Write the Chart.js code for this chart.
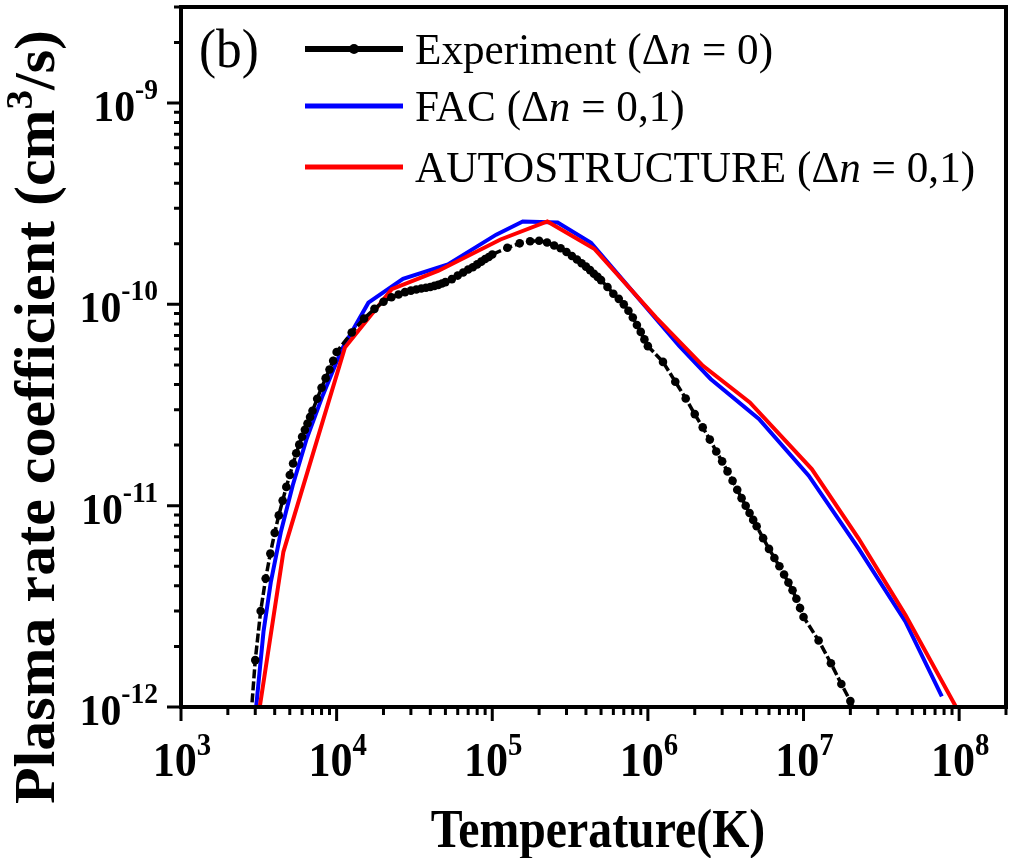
<!DOCTYPE html>
<html>
<head>
<meta charset="utf-8">
<title>Plasma rate coefficient</title>
<script src="https://cdn.jsdelivr.net/npm/chart.js@4.4.1/dist/chart.umd.min.js"></script>
<style>
  html, body { margin: 0; padding: 0; background: #fff; }
  #RateChart { display: block; }
</style>
</head>
<body>
<canvas id="RateChart" width="1011" height="858"></canvas>
<script>
// Experiment (dn = 0), temperature in K and rate in cm^3/s
const expT = [
  2750, 3000, 3250, 3500, 3750, 4000, 4250, 4500, 4750, 5000, 5250, 5500,
  5750, 6000, 6250, 6500, 6750, 7000, 7500, 8000, 8500, 9000, 9500, 10000,
  12500, 15000, 17500, 20000, 22500, 25000, 27500, 30000, 32500, 35000,
  37500, 40000, 42500, 45000, 47500, 50000, 55000, 60000, 65000, 70000,
  75000, 80000, 85000, 90000, 95000, 100000,
  125000, 150000, 175000, 200000, 225000, 250000, 275000, 300000, 325000,
  350000, 375000, 400000, 425000, 450000, 475000, 500000, 550000, 600000,
  650000, 700000, 750000, 800000, 850000, 900000, 950000, 1000000,
  1250000, 1500000, 1750000, 2000000, 2250000, 2500000, 2750000, 3000000,
  3250000, 3500000, 3750000, 4000000, 4250000, 4500000, 4750000, 5000000,
  5500000, 6000000, 6500000, 7000000, 7500000, 8000000, 8500000, 9000000,
  9500000, 10000000,
  12500000, 15000000, 17500000, 20000000, 22500000,
];
const expRate = [
  7.0e-13, 1.71e-12, 3.0e-12, 4.35e-12, 5.78e-12, 7.33e-12, 8.95e-12,
  1.06e-11, 1.24e-11, 1.42e-11, 1.62e-11, 1.82e-11, 2.01e-11, 2.2e-11,
  2.38e-11, 2.56e-11, 2.76e-11, 2.96e-11, 3.4e-11, 3.85e-11, 4.3e-11,
  4.75e-11, 5.25e-11, 5.8e-11,
  7.25e-11, 8.5e-11, 9.5e-11, 1.03e-10, 1.085e-10, 1.12e-10, 1.15e-10,
  1.17e-10, 1.185e-10, 1.2e-10, 1.21e-10, 1.22e-10, 1.235e-10, 1.25e-10,
  1.27e-10, 1.29e-10, 1.335e-10, 1.39e-10, 1.44e-10, 1.49e-10, 1.53e-10,
  1.58e-10, 1.63e-10, 1.68e-10, 1.72e-10, 1.77e-10,
  1.91e-10, 2.01e-10, 2.06e-10, 2.07e-10, 2.03e-10, 1.96e-10, 1.9e-10,
  1.82e-10, 1.74e-10, 1.67e-10, 1.6e-10, 1.54e-10, 1.48e-10, 1.42e-10,
  1.37e-10, 1.32e-10, 1.22e-10, 1.13e-10, 1.065e-10, 1.0e-10, 9.3e-11,
  8.6e-11, 7.9e-11, 7.3e-11, 6.7e-11, 6.2e-11,
  5.18e-11, 4.13e-11, 3.41e-11, 2.85e-11, 2.45e-11, 2.13e-11, 1.86e-11,
  1.66e-11, 1.48e-11, 1.33e-11, 1.2e-11, 1.09e-11, 1.0e-11, 9.2e-12,
  8.5e-12, 7.9e-12, 6.9e-12, 6.1e-12, 5.5e-12, 5.0e-12, 4.55e-12,
  4.15e-12, 3.8e-12, 3.45e-12, 3.1e-12, 2.8e-12,
  2.14e-12, 1.65e-12, 1.3e-12, 1.07e-12, 8.6e-13,
];

// FAC (dn = 0,1)
const facT = [
  3000, 3390, 3780, 4380, 5220, 6420, 8130, 10800, 16000, 26700, 51900,
  106000, 157000, 263000, 431000, 1590000, 2530000, 5170000, 10800000,
  22600000, 45100000, 77400000,
];
const facRate = [
  9.0e-13, 2.37e-12, 4.19e-12, 7.4e-12, 1.26e-11, 2.15e-11, 3.52e-11,
  5.98e-11, 1.02e-10, 1.34e-10, 1.58e-10, 2.22e-10, 2.58e-10, 2.55e-10,
  2.02e-10, 6.22e-11, 4.26e-11, 2.7e-11, 1.41e-11, 6.12e-12, 2.66e-12,
  1.13e-12,
];

// AUTOSTRUCTURE (dn = 0,1)
const asT = [
  2260, 4550, 11300, 22600, 45200, 113000, 226000, 452000, 1130000,
  2260000, 4520000, 11300000, 22600000, 45200000, 113000000,
];
const asRate = [
  1.7e-13, 5.9e-12, 6.1e-11, 1.19e-10, 1.47e-10, 2.1e-10, 2.58e-10,
  1.89e-10, 8.6e-11, 4.95e-11, 3.26e-11, 1.52e-11, 6.87e-12, 2.86e-12,
  7.9e-13,
];

// axes
const xMin = 1e3;
const xMax = 2e8;
const yMin = 1e-12;
const yMax = 3e-9;
const xDecades = [1e3, 1e4, 1e5, 1e6, 1e7, 1e8];
const xDecadeLabels = ["3", "4", "5", "6", "7", "8"];
const yDecades = [1e-12, 1e-11, 1e-10, 1e-9];
const yDecadeLabels = ["-12", "-11", "-10", "-9"];
const minorSteps = [2, 3, 4, 5, 6, 7, 8, 9];

const legendLabels = [
  ["Experiment (\u0394", "n", " = 0)"],
  ["FAC (\u0394", "n", " = 0,1)"],
  ["AUTOSTRUCTURE (\u0394", "n", " = 0,1)"],
];

const serif = '"Liberation Serif", "Times New Roman", serif';

function toPoints(ts, vs) {
  return ts.map((t, i) => ({ x: t, y: vs[i] }));
}

function runsWidth(ctx, runs, sx) {
  return runs.reduce((w, r) => {
    ctx.font = r.font;
    return w + ctx.measureText(r.text).width * sx;
  }, 0);
}

function drawRuns(ctx, runs, x, y, sx) {
  let cx = x;
  runs.forEach((r) => {
    ctx.font = r.font;
    const w = ctx.measureText(r.text).width;
    ctx.save();
    ctx.translate(cx, y + (r.dy || 0));
    ctx.scale(sx, 1);
    ctx.fillText(r.text, 0, 0);
    ctx.restore();
    cx += w * sx;
  });
}

const axisDecor = {
  id: "axisDecor",
  afterDraw(chart) {
    const { ctx, chartArea: area } = chart;
    const xs = chart.scales.x;
    const ys = chart.scales.y;

    ctx.save();
    ctx.fillStyle = "#000";
    ctx.strokeStyle = "#000";
    ctx.textAlign = "left";
    ctx.textBaseline = "alphabetic";

    // tick marks, outward
    ctx.lineWidth = 3;
    ctx.beginPath();
    xDecades.forEach((d) => {
      const p = xs.getPixelForValue(d);
      ctx.moveTo(p, area.bottom);
      ctx.lineTo(p, area.bottom + 14);
      minorSteps.forEach((m) => {
        if (d * m > xMax) return;
        const q = xs.getPixelForValue(d * m);
        ctx.moveTo(q, area.bottom);
        ctx.lineTo(q, area.bottom + 8);
      });
    });
    yDecades.forEach((d) => {
      const p = ys.getPixelForValue(d);
      ctx.moveTo(area.left, p);
      ctx.lineTo(area.left - 14, p);
      minorSteps.forEach((m) => {
        if (d * m > yMax * 1.001) return;
        const q = ys.getPixelForValue(d * m);
        ctx.moveTo(area.left, q);
        ctx.lineTo(area.left - 7, q);
      });
    });
    ctx.stroke();

    // frame
    ctx.lineWidth = 4;
    ctx.strokeRect(area.left, area.top, area.right - area.left, area.bottom - area.top);

    // x tick labels
    xDecades.forEach((d, i) => {
      const runs = [
        { text: "10", font: "bold 49px " + serif },
        { text: xDecadeLabels[i], font: "bold 32px " + serif, dy: -21 },
      ];
      const w = runsWidth(ctx, runs, 0.9);
      drawRuns(ctx, runs, xs.getPixelForValue(d) - w / 2 + 1, area.bottom + 69, 0.9);
    });

    // y tick labels
    yDecades.forEach((d, i) => {
      const runs = [
        { text: "10", font: "bold 44px " + serif },
        { text: yDecadeLabels[i], font: "bold 29px " + serif, dy: -22 },
      ];
      const w = runsWidth(ctx, runs, 0.95);
      drawRuns(ctx, runs, 158 - w, ys.getPixelForValue(d) + 18, 0.95);
    });

    // x title
    const xTitle = [{ text: "Temperature(K)", font: "bold 54px " + serif }];
    const xw = runsWidth(ctx, xTitle, 0.885);
    drawRuns(ctx, xTitle, 598 - xw / 2, 847, 0.885);

    // y title
    const yTitle = [
      { text: "Plasma rate coefficient (cm", font: "bold 60px " + serif },
      { text: "3", font: "bold 39px " + serif, dy: -23 },
      { text: "/s)", font: "bold 60px " + serif },
    ];
    ctx.save();
    ctx.translate(54, 417);
    ctx.rotate(-Math.PI / 2);
    ctx.scale(1, 0.95);
    const yw = runsWidth(ctx, yTitle, 1);
    drawRuns(ctx, yTitle, -yw / 2, 0, 1);
    ctx.restore();

    // panel tag
    drawRuns(ctx, [{ text: "(b)", font: "54px " + serif }], 199, 67, 0.95);

    // legend
    const rowY = [49, 106, 167];
    const rowColors = ["#000", "rgb(0,0,255)", "rgb(255,0,0)"];
    rowY.forEach((ly, i) => {
      ctx.strokeStyle = rowColors[i];
      ctx.lineWidth = i === 0 ? 6 : 5;
      ctx.beginPath();
      ctx.moveTo(305, ly);
      ctx.lineTo(403, ly);
      ctx.stroke();
      if (i === 0) {
        ctx.beginPath();
        ctx.arc(354, ly, 5, 0, Math.PI * 2);
        ctx.fill();
      }
      const parts = legendLabels[i];
      drawRuns(ctx, [
        { text: parts[0], font: "45px " + serif },
        { text: parts[1], font: "italic 45px " + serif },
        { text: parts[2], font: "45px " + serif },
      ], 415, ly + 15, 0.96);
    });

    ctx.restore();
  },
};

new Chart(document.querySelector("#RateChart"), {
  type: "line",
  data: {
    datasets: [
      {
        label: "Experiment (\u0394n = 0)",
        data: toPoints(expT, expRate),
        borderColor: "#000",
        borderWidth: 3.5,
        borderDash: [9, 3],
        pointRadius: 4.3,
        pointBackgroundColor: "#000",
        pointBorderWidth: 0,
        order: 0,
      },
      {
        label: "FAC (\u0394n = 0,1)",
        data: toPoints(facT, facRate),
        borderColor: "rgb(0,0,255)",
        borderWidth: 4,
        pointRadius: 0,
        order: 2,
      },
      {
        label: "AUTOSTRUCTURE (\u0394n = 0,1)",
        data: toPoints(asT, asRate),
        borderColor: "rgb(255,0,0)",
        borderWidth: 4,
        pointRadius: 0,
        order: 1,
      },
    ],
  },
  options: {
    responsive: false,
    animation: false,
    layout: { padding: { left: 181, top: 7, right: 5, bottom: 151 } },
    elements: { line: { tension: 0, fill: false } },
    plugins: {
      legend: { display: false },
      tooltip: { enabled: false },
    },
    scales: {
      x: { type: "logarithmic", min: xMin, max: xMax, display: false },
      y: { type: "logarithmic", min: yMin, max: yMax, display: false },
    },
  },
  plugins: [axisDecor],
});
</script>
</body>
</html>
